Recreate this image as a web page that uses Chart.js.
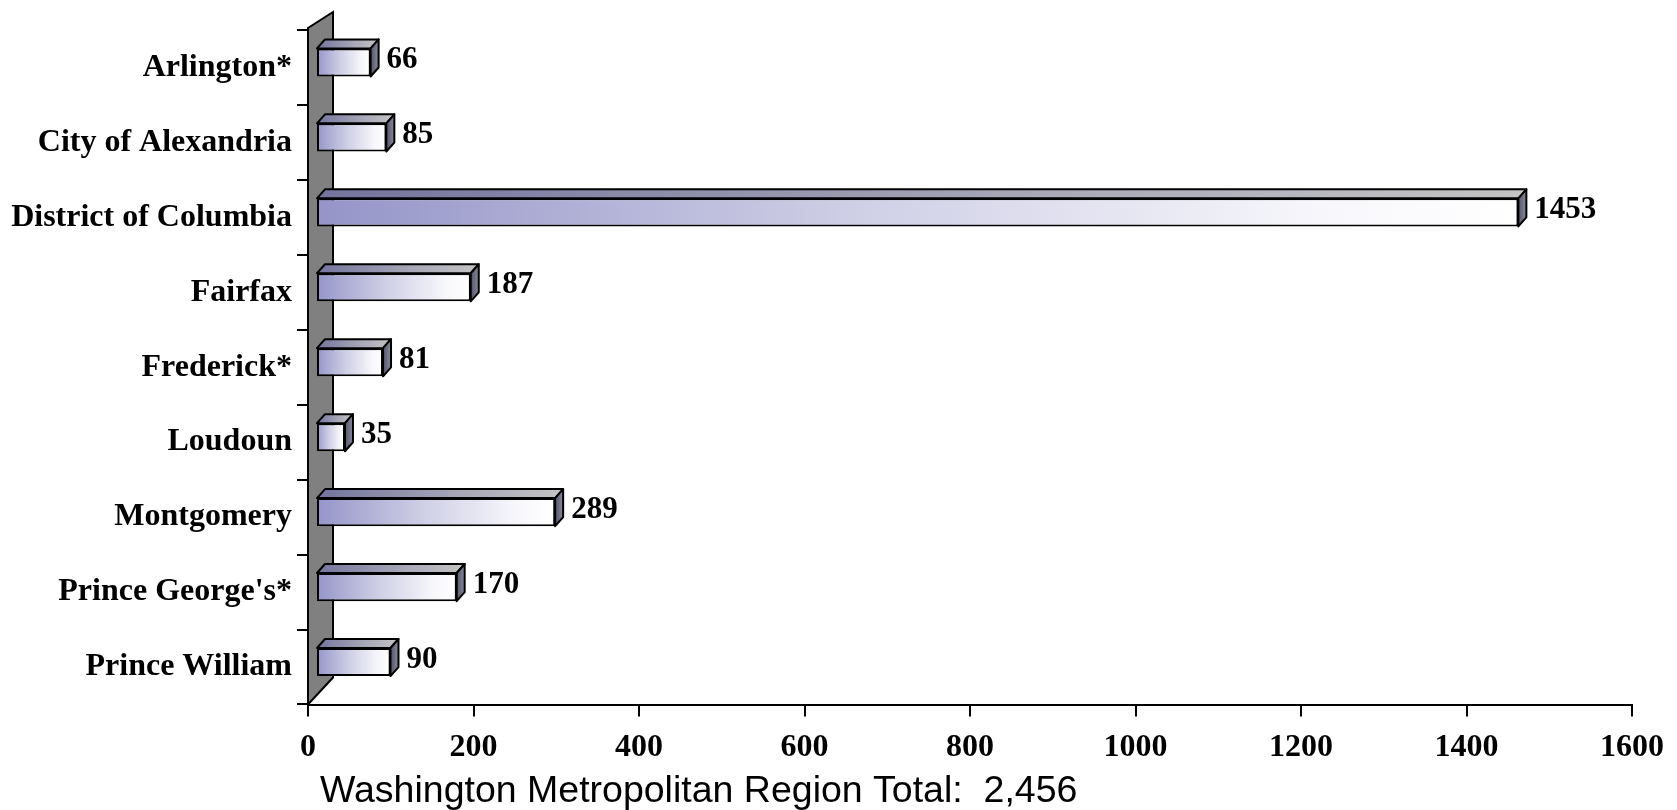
<!DOCTYPE html>
<html>
<head>
    <title>Washington Metropolitan Region</title>
    <script src="https://cdn.jsdelivr.net/npm/chart.js"></script>
    <style>
        body { margin: 0; background: #fff; }
        #wrap { width: 1677px; height: 810px; }
    </style>
</head>
<body>
    <div id="wrap"><canvas id="regionChart" width="1677" height="810"></canvas></div>

    <script>
        const jurisdictions = ["Arlington*", "City of Alexandria", "District of Columbia", "Fairfax",
            "Frederick*", "Loudoun", "Montgomery", "Prince George's*", "Prince William"];
        const counts = [66, 85, 1453, 187, 81, 35, 289, 170, 90];
        const xTicks = [0, 200, 400, 600, 800, 1000, 1200, 1400, 1600];
        const totalLabel = "Washington Metropolitan Region Total:  2,456";

        const SERIF = "'Liberation Serif', 'Times New Roman', serif";
        const DEPTH = 8;      // 3d depth of the bars
        const SHIFT = { x: 8, y: -5 };

        function frontFill(c) {
            const xs = c.chart.scales.x;
            if (!xs || c.type !== 'data') return '#9999cc';
            const x0 = xs.getPixelForValue(0), x1 = xs.getPixelForValue(c.raw);
            if (!isFinite(x0) || !isFinite(x1)) return '#9999cc';
            const g = c.chart.ctx.createLinearGradient(x0, 0, x1, 0);
            g.addColorStop(0, '#9494c8');
            g.addColorStop(0.45, '#cfcfe6');
            g.addColorStop(0.85, '#f8f8fc');
            g.addColorStop(1, '#ffffff');
            return g;
        }

        const box3d = {
            id: 'box3d',
            afterLayout(chart) {
                // total line sits a little right of the axis start
                if (chart.titleBlock) {
                    chart.titleBlock.left += 12;
                    chart.titleBlock.right += 12;
                }
            },
            beforeDatasetsDraw(chart) {
                const { ctx, chartArea: a } = chart;
                // gray back wall
                ctx.save();
                ctx.beginPath();
                ctx.moveTo(a.left, a.bottom);
                ctx.lineTo(a.left, a.top - 2);
                ctx.lineTo(a.left + 25, a.top - 18);
                ctx.lineTo(a.left + 25, a.bottom - 27);
                ctx.closePath();
                ctx.fillStyle = '#808080';
                ctx.fill();
                ctx.lineWidth = 2;
                ctx.strokeStyle = '#000';
                ctx.stroke();
                ctx.restore();
                ctx.save();
                ctx.translate(SHIFT.x, SHIFT.y);
            },
            afterDatasetsDraw(chart) {
                const { ctx } = chart;
                const meta = chart.getDatasetMeta(0);
                meta.data.forEach((bar, i) => {
                    const l = bar.base, r = bar.x, t = bar.y - bar.height / 2, b = bar.y + bar.height / 2;
                    ctx.lineWidth = 2;
                    ctx.strokeStyle = '#000';
                    ctx.lineJoin = 'round';
                    // top face
                    const tg = ctx.createLinearGradient(l, 0, r + DEPTH, 0);
                    tg.addColorStop(0, '#74749e');
                    tg.addColorStop(0.6, '#a8a8b8');
                    tg.addColorStop(1, '#c4c4c4');
                    ctx.beginPath();
                    ctx.moveTo(l, t);
                    ctx.lineTo(l + DEPTH, t - DEPTH - 1);
                    ctx.lineTo(r + DEPTH, t - DEPTH - 1);
                    ctx.lineTo(r, t);
                    ctx.closePath();
                    ctx.fillStyle = tg;
                    ctx.fill();
                    ctx.stroke();
                    // side face
                    const sg = ctx.createLinearGradient(r, 0, r + DEPTH, 0);
                    sg.addColorStop(0, '#55556a');
                    sg.addColorStop(1, '#8a8a9c');
                    ctx.beginPath();
                    ctx.moveTo(r, t);
                    ctx.lineTo(r + DEPTH, t - DEPTH - 1);
                    ctx.lineTo(r + DEPTH, b - DEPTH - 1);
                    ctx.lineTo(r, b);
                    ctx.closePath();
                    ctx.fillStyle = sg;
                    ctx.fill();
                    ctx.stroke();
                    // value label
                    ctx.fillStyle = '#000';
                    ctx.font = "bold 31px " + SERIF;
                    ctx.textAlign = 'left';
                    ctx.textBaseline = 'middle';
                    ctx.fillText(String(counts[i]), r + DEPTH + 8, bar.y - 2);
                });
                ctx.restore();
            }
        };

        const ctx = document.getElementById('regionChart').getContext('2d');
        const regionChart = new Chart(ctx, {
            type: 'bar',
            data: {
                labels: jurisdictions,
                datasets: [{
                    data: counts,
                    backgroundColor: frontFill,
                    borderColor: '#000',
                    borderWidth: 2,
                    borderSkipped: false,
                    categoryPercentage: 1,
                    barPercentage: 0.375
                }]
            },
            options: {
                indexAxis: 'y',
                responsive: false,
                animation: false,
                devicePixelRatio: 1,
                layout: { padding: { top: 30, right: 45, bottom: 0, left: 0 } },
                scales: {
                    x: {
                        min: 0, max: 1600,
                        afterBuildTicks: s => { s.ticks = xTicks.map(v => ({ value: v })); },
                        afterFit: s => { s.height = 62; },
                        grid: { drawOnChartArea: false, tickLength: 12, color: '#000', lineWidth: 2 },
                        border: { color: '#000', width: 2 },
                        ticks: { color: '#000', padding: 12, maxRotation: 0,
                                 callback: v => String(v),
                                 font: { family: SERIF, size: 32, weight: 'bold' } }
                    },
                    y: {
                        afterFit: s => { s.width = 308; },
                        grid: { drawOnChartArea: false, tickLength: 11, color: '#000', lineWidth: 2, offset: true },
                        border: { color: '#000', width: 2 },
                        ticks: { color: '#000', padding: 5,
                                 font: { family: SERIF, size: 32, weight: 'bold' } }
                    }
                },
                plugins: {
                    legend: { display: false },
                    tooltip: { enabled: false },
                    title: {
                        display: true, position: 'bottom', align: 'start', fullSize: false,
                        text: totalLabel, color: '#000',
                        padding: { top: 6, bottom: 0 },
                        font: { family: "'Liberation Sans', Arial, sans-serif", size: 37.5, weight: 'normal', lineHeight: 1.0 }
                    }
                }
            },
            plugins: [box3d]
        });
        regionChart.update();
    </script>
</body>
</html>
